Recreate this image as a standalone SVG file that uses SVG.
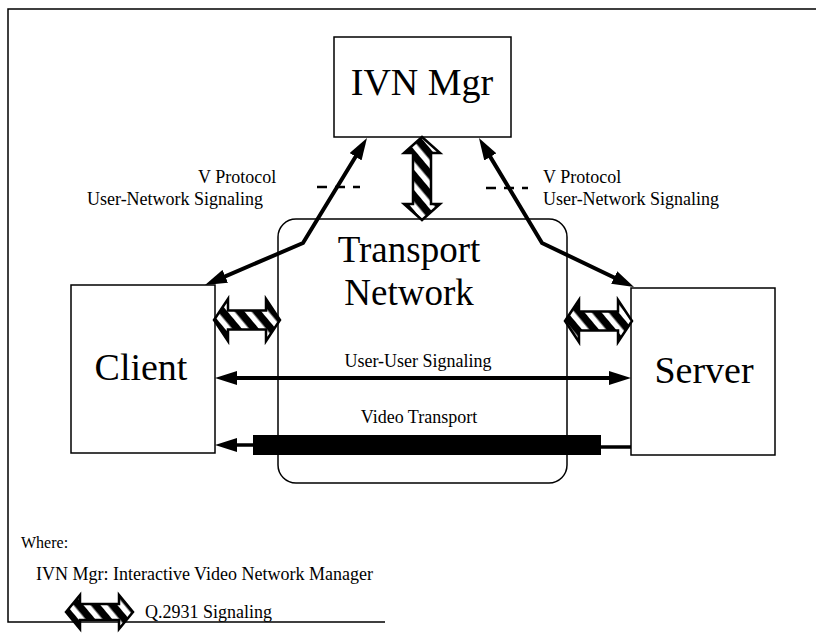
<svg xmlns="http://www.w3.org/2000/svg" width="816" height="635" viewBox="0 0 816 635">
<style>
.box{fill:#fff;stroke:#000;stroke-width:1.5}
.t{font-family:"Liberation Serif","Times New Roman",serif;fill:#000}
.big{font-size:38px}
.sm{font-size:18px}
.conn{fill:none;stroke:#000;stroke-width:4}
.hatch{fill:url(#stripes);stroke:#000;stroke-width:2.5;stroke-linejoin:miter}
</style>
<defs>
<pattern id="stripes" patternUnits="userSpaceOnUse" width="13" height="13" patternTransform="rotate(-40)">
<rect width="13" height="13" fill="#000"/>
<rect x="0" y="0" width="5.5" height="13" fill="#fff"/>
</pattern>
<marker id="ah" markerUnits="userSpaceOnUse" markerWidth="22" markerHeight="14" refX="12" refY="7" orient="auto-start-reverse" viewBox="0 0 22 14">
<path d="M0,0 L22,7 L0,14 Z" fill="#000"/>
</marker>
</defs>
<path d="M385,622 L8,622 L8,9 L816,9" fill="none" stroke="#000" stroke-width="1.5"/>

<g id="ivn-mgr">
<rect class="box" x="334" y="37" width="177" height="100"/>
<text class="t big" x="422" y="95" text-anchor="middle">IVN Mgr</text>
</g>
<g id="transport-network">
<rect x="278" y="219" width="289" height="264" rx="18" fill="none" stroke="#000" stroke-width="1.5"/>
<text class="t" font-size="37" x="409" y="262" text-anchor="middle">Transport</text>
<text class="t" font-size="37" x="409" y="305" text-anchor="middle">Network</text>
</g>
<g id="client">
<rect class="box" x="71" y="285" width="144" height="168"/>
<text class="t big" x="141" y="380" text-anchor="middle">Client</text>
</g>
<g id="server">
<rect class="box" x="631" y="288" width="144" height="167"/>
<text class="t big" x="704" y="383" text-anchor="middle">Server</text>
</g>

<g id="connectors">
<polyline class="conn" points="214.2,281.1 303,243 361.8,146.5" marker-start="url(#ah)" marker-end="url(#ah)"/>
<polyline class="conn" points="484.1,146.6 542,243 625,282.7" marker-start="url(#ah)" marker-end="url(#ah)"/>
<line x1="317" y1="187" x2="360" y2="187" stroke="#000" stroke-width="2.5" stroke-dasharray="10,8"/>
<line x1="486" y1="188" x2="528" y2="188" stroke="#000" stroke-width="2.5" stroke-dasharray="10,8"/>
<polygon class="hatch" points="422,137 440,153 431,153 431,204 440,204 422,220 404,204 413,204 413,153 404,153"/>
<polygon class="hatch" points="214,320 228,299 228,310.5 266,310.5 266,299 280,320 266,341 266,329.5 228,329.5 228,341"/>
<polygon class="hatch" points="565,321 579,300 579,311.5 618,311.5 618,300 632,321 618,342 618,330.5 579,330.5 579,342"/>
<line class="conn" x1="225" y1="378" x2="621" y2="378" marker-start="url(#ah)" marker-end="url(#ah)"/>
<line x1="631" y1="447" x2="600" y2="447" stroke="#000" stroke-width="3.5"/>
<rect x="253" y="435" width="348" height="20" fill="#000"/>
<line x1="254" y1="445" x2="225" y2="445" stroke="#000" stroke-width="3.5" marker-end="url(#ah)"/>
</g>

<g id="labels">
<text class="t sm" x="198" y="183">V Protocol</text>
<text class="t sm" x="87" y="205">User-Network Signaling</text>
<text class="t sm" x="543" y="183">V Protocol</text>
<text class="t sm" x="543" y="205">User-Network Signaling</text>
<text class="t sm" x="418" y="367" text-anchor="middle">User-User Signaling</text>
<text class="t sm" x="419" y="423" text-anchor="middle">Video Transport</text>
</g>

<g id="legend">
<text class="t" font-size="16" x="21" y="548">Where:</text>
<text class="t sm" x="36" y="580">IVN Mgr: Interactive Video Network Manager</text>
<polygon class="hatch" points="66,612 80,595 80,604 119,604 119,595 133,612 119,629 119,620 80,620 80,629"/>
<text class="t sm" x="145" y="618">Q.2931 Signaling</text>
</g>
</svg>
